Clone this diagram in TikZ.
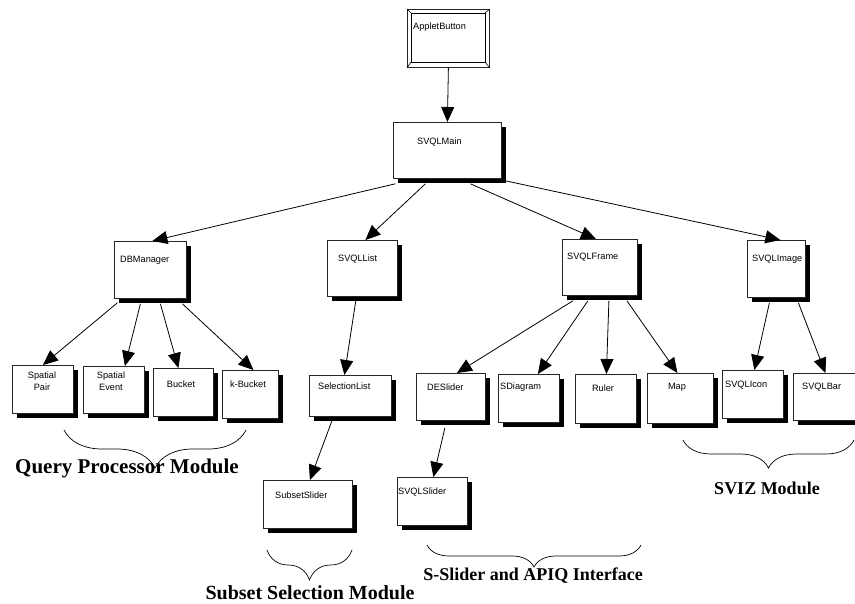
\documentclass[tikz,border=0pt]{standalone}
\usepackage{fontspec}
\setmainfont{Liberation Sans}
\newfontfamily\modfont{Liberation Serif}
\usetikzlibrary{arrows.meta}
\usetikzlibrary{shadows}
\usetikzlibrary{decorations.pathreplacing}

\tikzset{
  modbox/.style={draw=black!85, line width=0.8pt, fill=white, inner sep=0pt, anchor=north west,
    drop shadow={shadow xshift=5pt, shadow yshift=-5pt, fill=black, opacity=1}},
  boxtext/.style={font=\fontsize{9.2}{12}\selectfont, inner sep=0pt, anchor=west, align=center},
  conn/.style={-{Triangle[length=15pt,width=13pt]}, line width=0.8pt},
  modlabel/.style={font=\fontsize{#1}{21}\selectfont\modfont\bfseries, inner sep=0pt},
  modbrace/.style={decorate, decoration={brace, mirror, amplitude=#1}, line width=0.7pt}
}

\begin{document}
\begin{tikzpicture}[x=1pt, y=-1pt]
      \useasboundingbox (0,0) rectangle (855,604);

      % applet frame
      \node[draw=black!85, line width=0.8pt, inner sep=0pt, anchor=north west, minimum width=82pt, minimum height=58pt] (applet) at (407,9) {};
      \draw[line width=0.7pt] (411,13) rectangle (485,62);
      \draw[line width=0.6pt] (applet.north west) -- (411,13);
      \draw[line width=0.6pt] (applet.north east) -- (485,13);
      \draw[line width=0.6pt] (applet.south west) -- (411,62);
      \draw[line width=0.6pt] (applet.south east) -- (485,62);
      \node[boxtext] (applet-t) at (413,27) {AppletButton};

      % boxes
      \node[modbox, minimum width=108pt, minimum height=56pt] (main) at (393,122) {};
      \node[modbox, minimum width=72pt, minimum height=57pt] (dbm) at (114,241) {};
      \node[modbox, minimum width=70pt, minimum height=56pt] (list) at (327,240) {};
      \node[modbox, minimum width=75pt, minimum height=56pt] (frame) at (562,239) {};
      \node[modbox, minimum width=58pt, minimum height=57pt] (image) at (747,240) {};
      \node[modbox, minimum width=61pt, minimum height=48pt] (spair) at (12,365) {};
      \node[modbox, minimum width=61pt, minimum height=47pt] (sevent) at (83,366) {};
      \node[modbox, minimum width=60pt, minimum height=48pt] (bucket) at (153,368) {};
      \node[modbox, minimum width=56pt, minimum height=48pt] (kbucket) at (222,370) {};
      \node[modbox, minimum width=82pt, minimum height=41pt] (sellist) at (309,375) {};
      \node[modbox, minimum width=89pt, minimum height=48pt] (subset) at (263,480) {};
      \node[modbox, minimum width=69pt, minimum height=47pt] (deslider) at (416,373) {};
      \node[modbox, minimum width=61pt, minimum height=48pt] (sdiagram) at (498,374) {};
      \node[modbox, minimum width=61pt, minimum height=49pt] (ruler) at (575,374) {};
      \node[modbox, minimum width=66pt, minimum height=50pt] (map) at (647,373) {};
      \node[modbox, minimum width=70pt, minimum height=48pt] (slider) at (397,477) {};
      \node[modbox, minimum width=61pt, minimum height=48pt] (icon) at (722,370) {};
      \node[modbox, minimum width=64pt, minimum height=47pt] (bar) at (793,373) {};

      % texts
      \node[boxtext] (main-t) at (417,142) {SVQLMain};
      \node[boxtext] (dbm-t) at (120,260) {DBManager};
      \node[boxtext] (list-t) at (338,259) {SVQLList};
      \node[boxtext] (frame-t) at (567,257) {SVQLFrame};
      \node[boxtext] (image-t) at (752,259) {SVQLImage};
      \node[boxtext, anchor=center] (spair-t) at (42,381) {Spatial\\ Pair};
      \node[boxtext, anchor=center] (sevent-t) at (111,381) {Spatial\\ Event};
      \node[boxtext, anchor=center] (bucket-t) at (181,384) {Bucket};
      \node[boxtext, anchor=center] (kbucket-t) at (248,384) {k-Bucket};
      \node[boxtext] (sellist-t) at (318,386) {SelectionList};
      \node[boxtext] (subset-t) at (275,495) {SubsetSlider};
      \node[boxtext] (deslider-t) at (427,387) {DESlider};
      \node[boxtext] (sdiagram-t) at (500,387) {SDiagram};
      \node[boxtext, anchor=center] (ruler-t) at (603,388) {Ruler};
      \node[boxtext, anchor=center] (map-t) at (677,387) {Map};
      \node[boxtext] (slider-t) at (398,492) {SVQLSlider};
      \node[boxtext] (icon-t) at (725,385) {SVQLIcon};
      \node[boxtext] (bar-t) at (802,387) {SVQLBar};

      % arrows
      \draw[conn] (applet.south) -- (main.north);
      \draw[conn] ([xshift=-52pt,yshift=-5pt]main.south) -- ([xshift=2pt]dbm.north);
      \draw[conn] ([xshift=-22pt,yshift=-5pt]main.south) -- ([xshift=3pt]list.north);
      \draw[conn] ([xshift=23pt,yshift=-5pt]main.south) -- ([xshift=-4pt]frame.north);
      \draw[conn] ([xshift=58pt,yshift=-2pt]main.south) -- ([xshift=4pt]image.north);
      \draw[conn] ([xshift=-33pt,yshift=-4pt]dbm.south) -- (spair.north);
      \draw[conn] ([xshift=-10pt,yshift=-5pt]dbm.south) -- ([xshift=11pt]sevent.north);
      \draw[conn] ([xshift=10pt,yshift=-5pt]dbm.south) -- ([xshift=-5pt]bucket.north);
      \draw[conn] ([xshift=32pt,yshift=-5pt]dbm.south) -- ([xshift=3pt]kbucket.north);
      \draw[conn] ([xshift=-6pt]list.south) -- ([xshift=-6pt]sellist.north);
      \draw[conn] ([xshift=-17pt]sellist.south) -- ([xshift=2pt]subset.north);
      \draw[conn] ([xshift=-27pt,yshift=-5pt]frame.south) -- ([xshift=6pt]deslider.north);
      \draw[conn] ([xshift=-12pt,yshift=-5pt]frame.south) -- ([xshift=9pt]sdiagram.north);
      \draw[conn] ([xshift=9pt,yshift=-5pt]frame.south) -- ([xshift=0.5pt]ruler.north);
      \draw[conn] ([xshift=27pt,yshift=-5pt]frame.south) -- ([xshift=-3pt]map.north);
      \draw[conn] ([xshift=-7pt,yshift=-5pt]image.south) -- ([xshift=1.5pt]icon.north);
      \draw[conn] ([xshift=22pt,yshift=-5pt]image.south) -- (bar.north);
      \draw[conn] ([xshift=-6pt,yshift=-7pt]deslider.south) -- ([xshift=1pt]slider.north);

      % module braces
      \coordinate (qp-l) at (64,430);
      \coordinate (qp-r) at (246,430);
      \coordinate (ss-l) at (267,550);
      \coordinate (ss-r) at (352,550);
      \coordinate (sl-l) at (427,545);
      \coordinate (sl-r) at (641,545);
      \coordinate (vz-l) at (683,440);
      \coordinate (vz-r) at (854,440);
      \draw[modbrace=38pt] (qp-l) -- (qp-r);
      \draw[modbrace=30pt] (ss-l) -- (ss-r);
      \draw[modbrace=22pt] (sl-l) -- (sl-r);
      \draw[modbrace=28pt] (vz-l) -- (vz-r);
      \node[modlabel=21] (qp) at (127,468) {Query Processor Module};
      \node[modlabel=20] (ss) at (310,593) {Subset Selection Module};
      \node[modlabel=18] (sl) at (533,576) {S-Slider and APIQ Interface};
      \node[modlabel=18] (vz) at (767,488) {SVIZ Module};
\end{tikzpicture}
\end{document}
